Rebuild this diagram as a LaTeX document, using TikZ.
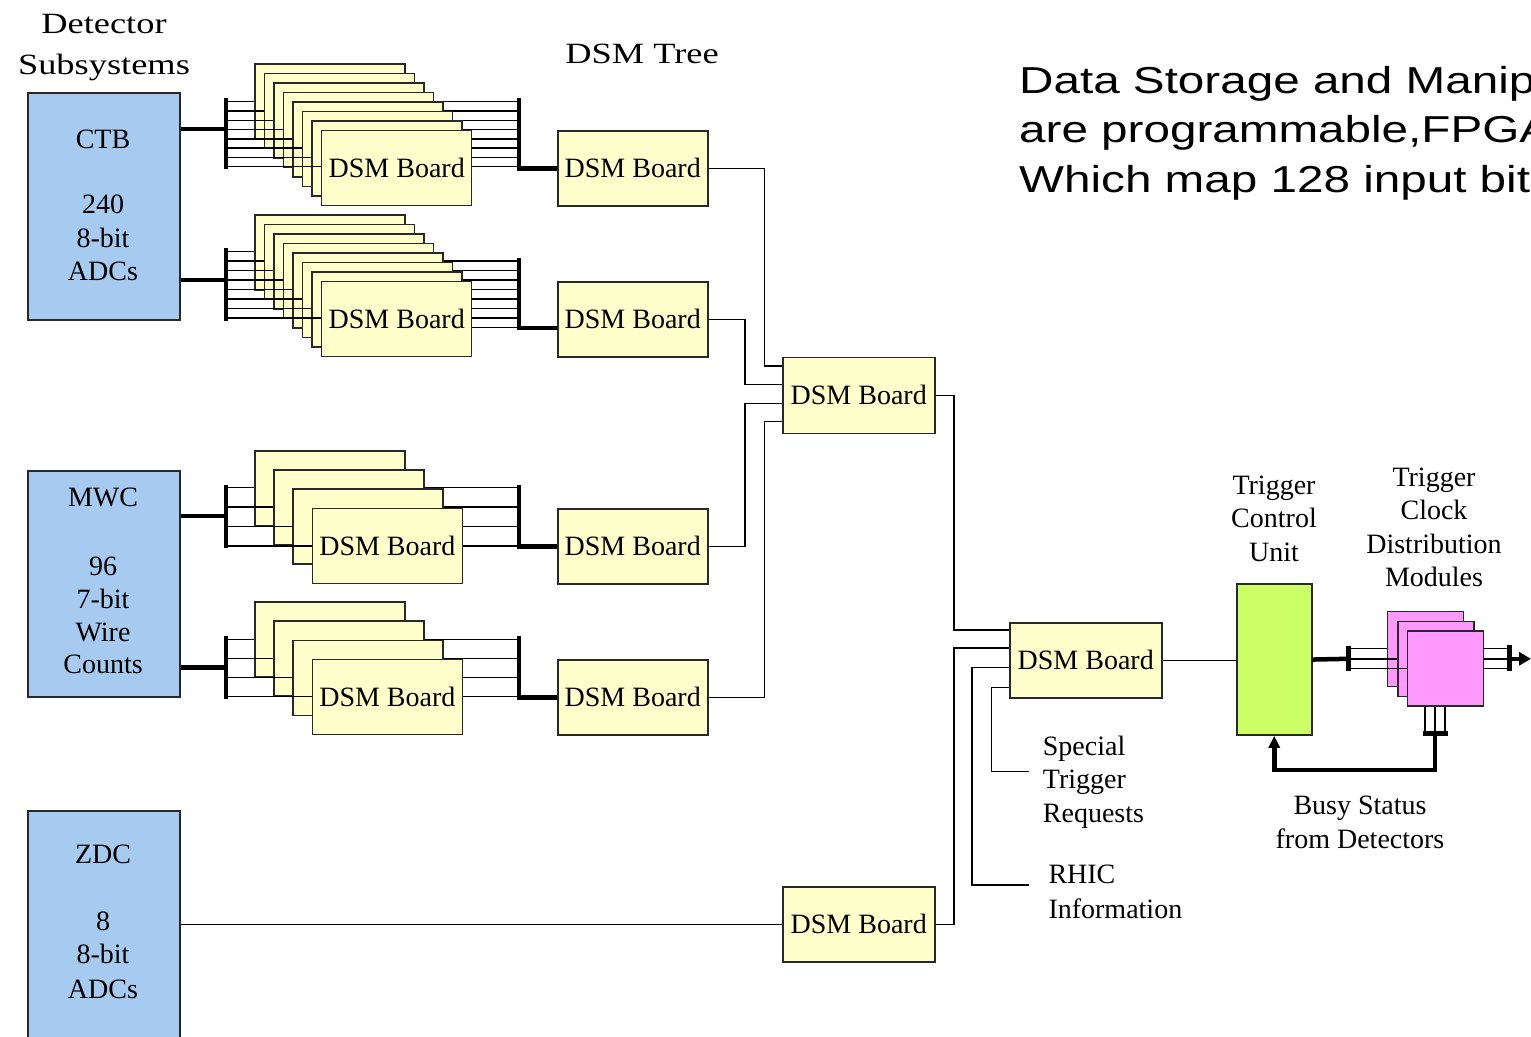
\documentclass[tikz,border=0pt]{standalone}
\usepackage{fontspec}
\setmainfont{Liberation Serif}
\newfontfamily\sansf{Liberation Sans}
\usepackage{graphicx}
\usetikzlibrary{arrows.meta}
\pgfdeclarelayer{background}
\pgfsetlayers{background,main}
\definecolor{dsmyellow}{RGB}{255,255,204}
\definecolor{detblue}{RGB}{166,202,240}
\definecolor{tcugreen}{RGB}{204,255,102}
\definecolor{tcdpink}{RGB}{255,153,255}
\definecolor{edgec}{RGB}{40,40,40}
\newcommand\lblfont{\fontsize{28}{33}\selectfont}
\newcommand\dsmstack[9]{%
  \foreach \k in {1,...,#2}{%
    \pgfmathsetmacro\bx{#3+(\k-1)*#5}%
    \pgfmathsetmacro\by{#4+(\k-1)*#6}%
    \pgfmathsetmacro\ly{#7+(\k-1)*#9}%
    \pgfmathsetmacro\ry{#8+(\k-1)*#9}%
    \node[board] (#1b\k) at (\bx,\by) {\ifnum\k=#2 DSM Board\fi};
    \coordinate (#1l\k) at (226,\ly);
    \coordinate (#1r\k) at (519,\ry);
  }%
  \begin{pgfonlayer}{background}
    \foreach \k in {1,...,#2}{\draw[wire] (#1b\k.east |- #1r\k) -- (#1r\k);}
  \end{pgfonlayer}
  \foreach \k in {1,...,#2}{\draw[wire] (#1l\k) -- (#1b\k.west |- #1l\k);}
}
\begin{document}
\begin{tikzpicture}[x=1pt,y=-1pt,
  board/.style={draw=edgec, line width=1.5pt, fill=dsmyellow, minimum width=150pt,
    minimum height=75pt, inner sep=0pt, anchor=north west, font=\lblfont},
  detbox/.style={draw=edgec, line width=1.5pt, fill=detblue, minimum width=152pt,
    inner sep=0pt, anchor=north west},
  wire/.style={line width=1.5pt, draw=black},
  bus/.style={line width=4.5pt, draw=black},
  txt/.style={font=\lblfont, inner sep=0pt, anchor=base},
  txtw/.style={font=\lblfont, inner sep=0pt, anchor=base west},
  note/.style={font=\sansf\fontsize{37.5}{45}\selectfont, inner sep=0pt, anchor=base west}]
\useasboundingbox (0,0) rectangle (1531,1036);
\begin{pgfonlayer}{background}
  \fill[white] (0,0) rectangle (1531,1036);
\end{pgfonlayer}
\clip (0,0) rectangle (1531,1036);

% detector boxes
\node[detbox, minimum height=227pt] (ctb) at (27,92) {};
\node[detbox, minimum height=226pt] (mwc) at (27,470) {};
\node[detbox, minimum height=240pt] (zdc) at (27,810) {};

\node[txt] (ctb1) at (103,148) {CTB};
\node[txt] (ctb2) at (103,213) {240};
\node[txt] (ctb3) at (103,247) {8-bit};
\node[txt] (ctb4) at (103,280.7) {ADCs};
\node[txt] (mwc1) at (103,506) {MWC};
\node[txt] (mwc2) at (103,575) {96};
\node[txt] (mwc3) at (103,608.3) {7-bit};
\node[txt] (mwc4) at (103,641.7) {Wire};
\node[txt] (mwc5) at (103,673.3) {Counts};
\node[txt] (zdc1) at (103,863.3) {ZDC};
\node[txt] (zdc2) at (103,930) {8};
\node[txt] (zdc3) at (103,963.3) {8-bit};
\node[txt] (zdc4) at (103,998.3) {ADCs};

\node[txt] (title1) at (104,33.3) {\scalebox{1.3}[1.05]{Detector}};
\node[txt] (title2) at (104,74) {\scalebox{1.3}[1.05]{Subsystems}};
\node[txt] (title3) at (642,63) {\scalebox{1.3}[1.05]{DSM Tree}};

% stacks
\dsmstack{ca}{8}{254}{63}{9.57}{9.57}{101.7}{101.7}{9.29}
\dsmstack{cb}{8}{254}{214}{9.57}{9.57}{251.7}{261}{9.5}
\dsmstack{ma}{4}{254}{450}{19.2}{19.2}{487.7}{487.7}{19.4}
\dsmstack{mb}{4}{254}{601}{19.2}{19.3}{639.3}{639.3}{19.1}

% second column
\node[board] (c2a) at (557,130) {DSM Board};
\node[board] (c2b) at (557,281) {DSM Board};
\node[board] (c2c) at (557,508) {DSM Board};
\node[board] (c2d) at (557,659) {DSM Board};
\node[board, minimum width=152pt, minimum height=76pt] (c3a) at (782,356.5) {DSM Board};
\node[board, minimum width=152pt] (c3b) at (782,886) {DSM Board};
\node[board, minimum width=152pt] (c4) at (1009,622) {DSM Board};

% buses from detectors
\coordinate (cain) at (226,129);
\coordinate (cbin) at (226,280);
\coordinate (main) at (226,516);
\coordinate (mbin) at (226,667.3);
\draw[bus] (ctb.east |- cain) -- (cain);
\draw[bus] (ctb.east |- cbin) -- (cbin);
\draw[bus] (mwc.east |- main) -- (main);
\draw[bus] (mwc.east |- mbin) -- (mbin);
\draw[bus] (226,98) -- (226,169);
\draw[bus] (226,248) -- (226,321);
\draw[bus] (226,485) -- (226,548);
\draw[bus] (226,636) -- (226,699);

% buses to second column
\coordinate (cbout) at (557,328);
\draw[bus] (519,98) |- (c2a.west);
\draw[bus] (519,258) |- (cbout);
\draw[bus] (519,485) |- (c2c.west);
\draw[bus] (519,636) |- (c2d.west);

% tree wiring
\coordinate (t1) at (764.3,366);
\coordinate (t2) at (745,384.3);
\coordinate (t3) at (745,403.3);
\coordinate (t4) at (764.3,421.7);
\coordinate (t5) at (954,630);
\coordinate (t6) at (954,648);
\coordinate (t7) at (972,667.3);
\coordinate (t8) at (991.7,687.3);
\coordinate (rh) at (1029,885);
\coordinate (sp) at (1029,771.7);
\draw[wire] (c2a.east) -| (t1) -- (c3a.west |- t1);
\draw[wire] (c2b.east) -| (t2) -- (c3a.west |- t2);
\draw[wire] (c2c.east) -| (t3) -- (c3a.west |- t3);
\draw[wire] (c2d.east) -| (t4) -- (c3a.west |- t4);
\draw[wire] (c3a.east) -| (t5) -- (c4.west |- t5);
\draw[wire] (c3b.east) -| (t6) -- (c4.west |- t6);
\draw[wire] (zdc.east |- c3b.west) -- (c3b.west);
\draw[wire] (c4.west |- t7) -- (t7) |- (rh);
\draw[wire] (c4.west |- t8) -- (t8) |- (sp);

\node[txtw] (spec1) at (1042.7,755) {Special};
\node[txtw] (spec2) at (1042.7,788.5) {Trigger};
\node[txtw] (spec3) at (1042.7,822) {Requests};
\node[txtw] (rhic1) at (1048.3,883) {RHIC};
\node[txtw] (rhic2) at (1048.3,918) {Information};

% trigger control unit and clock distribution
\node[draw=edgec, line width=1.5pt, fill=tcugreen, minimum width=75pt, minimum height=151pt,
  inner sep=0pt, anchor=north west] (tcu) at (1236,583.3) {};
\draw[wire] (c4.east) -- (c4.east -| tcu.west);
\node[txt] (tcu1) at (1274,494) {Trigger};
\node[txt] (tcu2) at (1274,527.5) {Control};
\node[txt] (tcu3) at (1274,561) {Unit};
\node[txt] (tcd1) at (1434,486) {Trigger};
\node[txt] (tcd2) at (1434,519.5) {Clock};
\node[txt] (tcd3) at (1434,553) {Distribution};
\node[txt] (tcd4) at (1434,586.5) {Modules};
\node[txt] (busy1) at (1360,814) {Busy Status};
\node[txt] (busy2) at (1360,848) {from Detectors};

\foreach \n/\px/\py in {p1/1386.7/610.7, p2/1397.3/620.7, p3/1406.7/630}{
  \node[draw=edgec, line width=1.5pt, fill=tcdpink, minimum width=76pt, minimum height=75pt,
    inner sep=0pt, anchor=north west] (\n) at (\px,\py) {};
}
\coordinate (tb) at (1348.3,658.8);
\coordinate (tl1) at (1348.3,648.3);
\coordinate (tl2) at (1348.3,658.8);
\coordinate (tl3) at (1348.3,668.3);
\coordinate (tr1) at (1509.3,648.3);
\coordinate (tr2) at (1509.3,658.8);
\coordinate (tr3) at (1509.3,668.3);
\begin{pgfonlayer}{background}
  \draw[wire] (p1.east |- tr1) -- (tr1);
  \draw[wire] (p2.east |- tr2) -- (tr2);
  \draw[wire] (p3.east |- tr3) -- (tr3);
\end{pgfonlayer}
\draw[wire] (tl1) -- (p1.west |- tl1);
\draw[wire] (tl2) -- (p2.west |- tl2);
\draw[wire] (tl3) -- (p3.west |- tl3);
\draw[bus] (tcu.east) -- (tb);
\draw[bus] (1348.3,645.5) -- (1348.3,671);
\draw[bus] (1509.3,645) -- (1509.3,671);
\coordinate (outarrow) at (1531,658.8);
\draw[bus, -{Triangle[length=12pt,width=13pt]}] (tr2) -- (outarrow);

\coordinate (bb) at (1435,733.3);
\foreach \dx in {18.3,28.3,38.3}{
  \draw[wire] ([xshift=\dx pt]p3.south west) -- ++(0,28.3);
}
\draw[bus] (1422.7,733.3) -- (1448.3,733.3);
\draw[bus, -{Triangle[length=12pt,width=11pt]}] (bb) -- (1435,770) -| (tcu.south);

% note
\node[note] (n1) at (1019,93.3) {\scalebox{1.27}[1]{Data Storage and Manip}};
\node[note] (n2) at (1019,142.7) {\scalebox{1.27}[1]{are programmable,FPGA}};
\node[note] (n3) at (1019,192) {\scalebox{1.27}[1]{Which map 128 input bit}};
\end{tikzpicture}
\end{document}
